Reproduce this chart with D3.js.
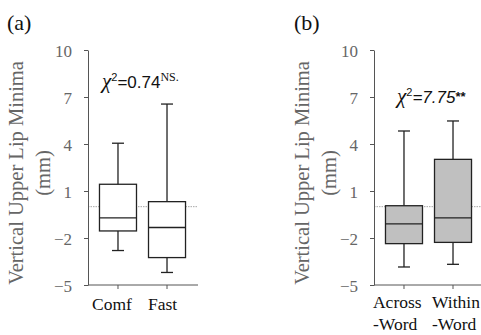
<!DOCTYPE html>
<html>
<head>
<meta charset="utf-8">
<script src="https://cdn.jsdelivr.net/npm/d3@7"></script>
<style>
  body { margin: 0; background: #fff; }
  svg { display: block; }
  text { font-family: "Liberation Serif", serif; }
</style>
</head>
<body>
<svg width="481" height="335"></svg>
<script>
// Data
var yTicks = [-5, -2, 1, 4, 7, 10];

// panel (a): speaking rate
var catsA = [["Comf"], ["Fast"]];
var statsA = [
  {whiskLo: -2.8, q1: -1.55, median: -0.72, q3: 1.43, whiskHi: 4.05},
  {whiskLo: -4.2, q1: -3.25, median: -1.33, q3: 0.32, whiskHi: 6.55}
];

// panel (b): word boundary
var catsB = [["Across", "-Word"], ["Within", "-Word"]];
var statsB = [
  {whiskLo: -3.85, q1: -2.36, median: -1.1, q3: 0.06, whiskHi: 4.83},
  {whiskLo: -3.68, q1: -2.28, median: -0.72, q3: 3.02, whiskHi: 5.47}
];

var svg = d3.select("svg");
var serif = "Liberation Serif";
var sans = "Liberation Sans";

function panel(opt) {
  var g = svg.append("g");

  var y = d3.scaleLinear().domain([-5, 10]).range([285, 50]);
  var x = d3.scaleBand()
      .domain(d3.range(opt.cats.length))
      .range([opt.x0 + 5.5, opt.x0 + 103.5])
      .paddingInner(0.245)
      .paddingOuter(0.122);

  // reference line at zero
  g.append("line")
      .attr("x1", opt.x0).attr("x2", opt.xEnd)
      .attr("y1", y(0)).attr("y2", y(0))
      .style("stroke", "#a8a8a8")
      .style("stroke-width", 1)
      .style("stroke-dasharray", "1.5,1");

  // y axis
  var yAxis = g.append("g")
      .attr("transform", "translate(" + opt.x0 + ",0)")
      .call(d3.axisLeft(y).tickValues(yTicks).tickSize(4).tickSizeOuter(0));
  yAxis.attr("font-family", null);
  yAxis.select(".domain").style("stroke", "#555");
  yAxis.selectAll(".tick line").style("stroke", "#555");
  yAxis.selectAll(".tick text")
      .attr("x", -16)
      .attr("dy", "0.36em")
      .attr("font-family", serif)
      .style("font-size", "17px")
      .style("fill", "#666");

  // x axis
  g.append("line")
      .attr("x1", opt.x0).attr("x2", opt.xEnd)
      .attr("y1", y(-5)).attr("y2", y(-5))
      .style("stroke", "#555");

  // boxes
  var box = g.selectAll(".box")
      .data(opt.stats)
      .enter()
      .append("g")
      .attr("class", "box");

  box.append("line")
      .attr("x1", function (d, i) { return x(i) + x.bandwidth() / 2; })
      .attr("x2", function (d, i) { return x(i) + x.bandwidth() / 2; })
      .attr("y1", function (d) { return y(d.whiskHi); })
      .attr("y2", function (d) { return y(d.whiskLo); })
      .style("stroke", "#222").style("stroke-width", 1.3);

  ["whiskHi", "whiskLo"].forEach(function (k) {
    box.append("line")
        .attr("x1", function (d, i) { return x(i) + x.bandwidth() / 2 - 6; })
        .attr("x2", function (d, i) { return x(i) + x.bandwidth() / 2 + 6; })
        .attr("y1", function (d) { return y(d[k]); })
        .attr("y2", function (d) { return y(d[k]); })
        .style("stroke", "#222").style("stroke-width", 1.3);
  });

  box.append("rect")
      .attr("x", function (d, i) { return x(i); })
      .attr("width", x.bandwidth())
      .attr("y", function (d) { return y(d.q3); })
      .attr("height", function (d) { return y(d.q1) - y(d.q3); })
      .style("fill", opt.fill)
      .style("stroke", "#222").style("stroke-width", 1.3);

  box.append("line")
      .attr("x1", function (d, i) { return x(i); })
      .attr("x2", function (d, i) { return x(i) + x.bandwidth(); })
      .attr("y1", function (d) { return y(d.median); })
      .attr("y2", function (d) { return y(d.median); })
      .style("stroke", "#222").style("stroke-width", 1.3);

  // x ticks + labels (labels sit left-aligned, slightly off the tick)
  opt.cats.forEach(function (lines, i) {
    var cx = x(i) + x.bandwidth() / 2;
    var lx = cx + opt.labelShift[i];
    g.append("line")
        .attr("x1", cx).attr("x2", cx)
        .attr("y1", y(-5)).attr("y2", y(-5) + 4)
        .style("stroke", "#555");
    var t = g.append("text")
        .attr("x", lx)
        .attr("y", opt.labelY)
        .attr("font-family", serif)
        .style("font-size", "17.5px")
        .style("fill", "#111");
    lines.forEach(function (s, j) {
      t.append("tspan").attr("x", lx).attr("dy", j ? 22 : 0).text(s);
    });
  });

  // y title
  var ty = g.append("text")
      .attr("transform", "translate(" + opt.titleX + ",173) rotate(-90)")
      .attr("text-anchor", "middle")
      .attr("font-family", serif)
      .style("font-size", "20.5px")
      .style("fill", "#666");
  ty.append("tspan").attr("x", 0).attr("y", 0).text("Vertical Upper Lip Minima");
  ty.append("tspan").attr("x", 0).attr("dy", 27).text("(mm)");

  // panel letter
  g.append("text")
      .attr("x", opt.letterX).attr("y", 30)
      .attr("font-family", serif)
      .style("font-size", "22px")
      .style("fill", "#111")
      .text(opt.letter);

  // chi-square note
  var c = g.append("text")
      .attr("x", opt.chiX).attr("y", opt.chiY)
      .style("font-size", "17px")
      .style("fill", "#111");
  c.append("tspan").attr("font-family", serif).style("font-style", "italic")
      .style("font-size", "21px").text("\u03c7");
  c.append("tspan").attr("dy", -7).attr("font-family", sans)
      .style("font-size", "11px").text("2");
  c.append("tspan").attr("dy", 7).attr("font-family", sans)
      .style("font-style", opt.chiItalic ? "italic" : "normal")
      .text("=" + opt.chi);
  if (opt.sig === "NS.") {
    c.append("tspan").attr("dy", -7).attr("font-family", serif)
        .style("font-size", "12px").text(opt.sig);
  } else {
    c.append("tspan").attr("dy", -2).attr("font-family", sans)
        .style("font-weight", "bold").style("font-size", "13px").text(opt.sig);
  }
}

panel({x0: 88, xEnd: 198, cats: catsA, stats: statsA, fill: "#fff",
       titleX: 23, letter: "(a)", letterX: 7, labelY: 310, labelShift: [-26, -19],
       chi: "0.74", sig: "NS.", chiX: 102, chiY: 88, chiItalic: false});

panel({x0: 374, xEnd: 481, cats: catsB, stats: statsB, fill: "#c0c0c0",
       titleX: 309, letter: "(b)", letterX: 294, labelY: 308, labelShift: [-31, -21],
       chi: "7.75", sig: "**", chiX: 397, chiY: 103, chiItalic: true});
</script>
</body>
</html>
